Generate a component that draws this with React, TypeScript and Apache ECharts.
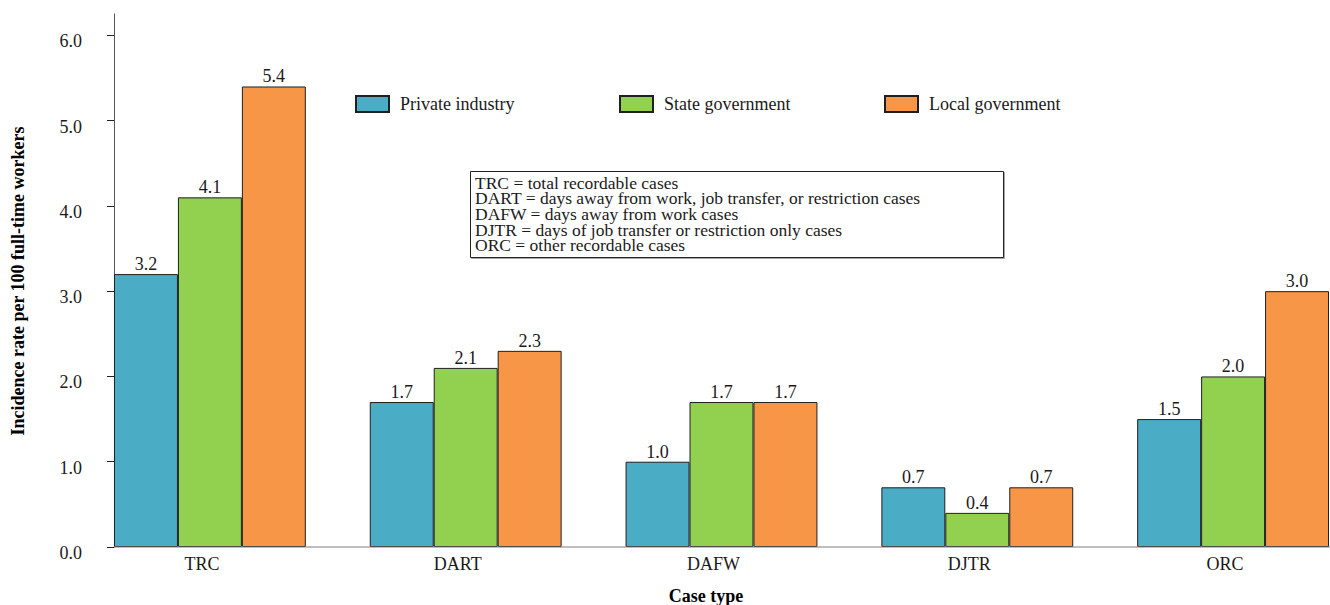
import React, { useEffect, useRef } from "react";
import * as echarts from "echarts";

const categories = ["TRC", "DART", "DAFW", "DJTR", "ORC"];
const seriesNames = ["Private industry", "State government", "Local government"];
const privateIndustry = [3.2, 1.7, 1.0, 0.7, 1.5];
const stateGovernment = [4.1, 2.1, 1.7, 0.4, 2.0];
const localGovernment = [5.4, 2.3, 1.7, 0.7, 3.0];
const yTicks = [0, 1, 2, 3, 4, 5, 6];
const noteLines = [
  "TRC = total recordable cases",
  "DART = days away from work, job transfer, or restriction cases",
  "DAFW = days away from work cases",
  "DJTR = days of job transfer or restriction only cases",
  "ORC = other recordable cases",
];
const colors = ["#4BACC6", "#92D050", "#F79646"];

const FONT = "Liberation Serif, Times New Roman, DejaVu Serif, serif";
const TEXT = "#1a1a1a";

export default function App() {
  const ref = useRef<HTMLDivElement>(null);
  useEffect(() => {
    if (!ref.current) return;
    const chart = echarts.init(ref.current, undefined, { renderer: "svg" });
    const gridLeft = 82;
    const gridTop = 14;
    const gridHeight = 533;
    const axisX = 114;
    const data = [privateIndustry, stateGovernment, localGovernment];
    const legendLefts = [355, 619, 884];
    chart.setOption({
      animation: false,
      backgroundColor: "#ffffff",
      textStyle: { fontFamily: FONT },
      grid: { left: gridLeft, top: gridTop, width: 1279, height: gridHeight, containLabel: false },
      legend: seriesNames.map((n, i) => ({
        data: [n],
        left: legendLefts[i],
        top: 95,
        padding: 0,
        icon: "rect",
        itemWidth: 33,
        itemHeight: 16,
        selectedMode: false,
        textStyle: { fontFamily: FONT, fontSize: 18, color: TEXT, padding: [0, 0, 0, 6] },
      })),
      xAxis: {
        type: "category",
        data: categories,
        axisLine: { show: false },
        axisTick: { show: false },
        axisLabel: {
          fontFamily: FONT,
          fontSize: 18,
          color: TEXT,
          margin: 8,
          padding: [0, 16, 0, 0],
        },
      },
      yAxis: {
        type: "value",
        min: 0,
        max: 6.25,
        offset: gridLeft - axisX,
        splitLine: { show: false },
        axisLine: { show: true, lineStyle: { color: "#555555", width: 1 } },
        axisTick: { show: true, length: 7, lineStyle: { color: "#222222" }, customValues: yTicks },
        axisLabel: {
          fontFamily: FONT,
          fontSize: 18,
          color: TEXT,
          margin: 32,
          verticalAlign: "top",
          lineHeight: 12,
          customValues: yTicks,
          formatter: (v: number) => v.toFixed(1),
        },
      },
      series: seriesNames.map((n, i) => ({
        name: n,
        type: "bar",
        data: data[i],
        barGap: "0%",
        barCategoryGap: "25%",
        itemStyle: { color: colors[i], borderColor: "#1f1f1f", borderWidth: 1 },
        label: {
          show: true,
          position: "top",
          distance: 1,
          fontFamily: FONT,
          fontSize: 18,
          color: TEXT,
          formatter: (p: any) => Number(p.value).toFixed(1),
        },
      })),
      graphic: [
        {
          type: "line",
          shape: { x1: axisX, y1: gridTop + gridHeight, x2: 1330, y2: gridTop + gridHeight },
          style: { stroke: "#7f7f7f", lineWidth: 1 },
          z: 10,
        },
        {
          type: "rect",
          shape: { x: 470.5, y: 171.5, width: 533, height: 86 },
          style: { fill: "#ffffff", stroke: "#222222", lineWidth: 1, shadowColor: "rgba(0,0,0,0.35)", shadowOffsetX: 1, shadowOffsetY: 1, shadowBlur: 1 },
          z: 5,
        },
        {
          type: "text",
          x: 475,
          y: 175,
          z: 6,
          style: {
            text: noteLines.join("\n"),
            fontFamily: FONT,
            fontSize: 17.5,
            lineHeight: 15.6,
            fill: TEXT,
            verticalAlign: "top",
            align: "left",
          },
        },
        {
          type: "text",
          x: 706,
          y: 596,
          style: {
            text: "Case type",
            fontFamily: FONT,
            fontSize: 18,
            fontWeight: "bold",
            fill: "#000000",
            align: "center",
            verticalAlign: "middle",
          },
        },
        {
          type: "text",
          x: 18,
          y: 281,
          rotation: Math.PI / 2,
          style: {
            text: "Incidence rate per 100 full-time workers",
            fontFamily: FONT,
            fontSize: 18,
            fontWeight: "bold",
            fill: "#000000",
            align: "center",
            verticalAlign: "middle",
          },
        },
      ],
    });
    return () => chart.dispose();
  }, []);
  return (
    <div
      style={{ position: "absolute", left: 0, top: 0, width: 1330, height: 605, overflow: "hidden", background: "#fff" }}
    >
      <div ref={ref} style={{ width: 1400, height: 605 }} />
    </div>
  );
}
